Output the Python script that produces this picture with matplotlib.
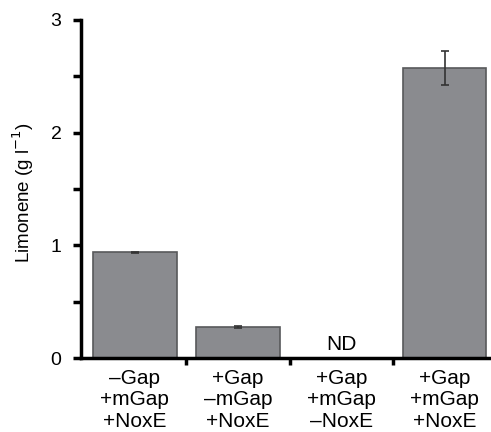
import matplotlib
matplotlib.use("Agg")
import matplotlib.pyplot as plt
from matplotlib.ticker import MultipleLocator
import numpy as np

plt.rcParams['font.family'] = ['Liberation Sans', 'DejaVu Sans']

categories = ['\u2013Gap\n+mGap\n+NoxE', '+Gap\n\u2013mGap\n+NoxE',
              '+Gap\n+mGap\n\u2013NoxE', '+Gap\n+mGap\n+NoxE']
limonene = [0.94, 0.275, 0.0, 2.57]
errors = [0.005, 0.01, 0.0, 0.15]
nd_label = [None, None, 'ND', None]

fig = plt.figure(figsize=(4.91, 4.32), dpi=100)
ax = fig.add_axes([0.165, 0.171, 0.835, 0.783])

x = np.arange(len(categories))
ax.bar(x, limonene, width=0.81, color='#8a8b8f', edgecolor='#58595b', linewidth=1.2,
       yerr=errors, error_kw=dict(ecolor='#333333', elinewidth=1.2, capsize=3, capthick=1.2),
       zorder=2)

for i, t in enumerate(nd_label):
    if t:
        ax.text(x[i], 0.04, t, ha='center', va='bottom', fontsize=15)

ax.set_xlim(-0.52, 3.45)
ax.set_ylim(0, 3)
ax.yaxis.set_major_locator(MultipleLocator(1))
ax.yaxis.set_minor_locator(MultipleLocator(0.5))
ax.set_xticks(x[:-1] + 0.5, minor=True)
ax.set_xticks(x)
ax.set_xticklabels(categories, fontsize=15, linespacing=1.15)
ax.tick_params(axis='x', which='major', length=0, pad=8)
ax.tick_params(axis='x', which='minor', length=5, width=2.5, direction='out')
ax.tick_params(axis='y', which='both', length=6, width=2.5, direction='out', labelsize=14, pad=8)

for s in ['top', 'right']:
    ax.spines[s].set_visible(False)
for s in ['left', 'bottom']:
    ax.spines[s].set_linewidth(2.5)

ax.set_ylabel('Limonene (g l$^{\u22121}$)', fontsize=13.5)
ax.yaxis.set_label_coords(-0.11, 0.49)

fig.savefig('out.png', dpi=100)
